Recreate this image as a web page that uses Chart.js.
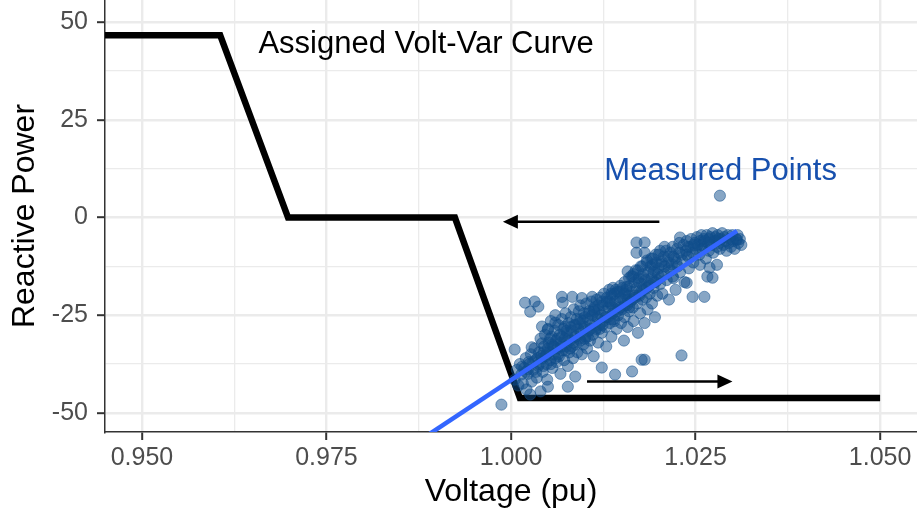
<!DOCTYPE html>
<html>
<head>
<meta charset="utf-8">
<script src="https://cdn.jsdelivr.net/npm/chart.js@4.4.1/dist/chart.umd.min.js"></script>
<style>
  html, body { margin: 0; padding: 0; background: #fff; }
</style>
</head>
<body>
<canvas id="voltVar" width="917" height="515"></canvas>
<script>
// ticks (every second one is a minor grid line)
const xTicks = [0.95, 0.9625, 0.975, 0.9875, 1.0, 1.0125, 1.025, 1.0375, 1.05];
const yTicks = [-50, -37.5, -25, -12.5, 0, 12.5, 25, 37.5, 50];

// assigned volt-var curve
const curveV = [0.945, 0.9606, 0.9698, 0.9924, 1.0012, 1.050];
const curveQ = [46.7, 46.7, 0, 0, -46.2, -46.2];

// linear fit through the measurements
const fitV = [0.988, 1.0306];
const fitQ = [-56.6, -3.4];

// measured points [voltage, reactive power]
const measuredPoints = [
  [1.0283, 5.6], [0.9987, -47.9], [1.0005, -33.8],
  [1.0019, -21.8], [1.0032, -21.5], [1.0037, -22.8], [1.0026, -24.1],
  [1.0069, -20.3], [1.0083, -20.3], [1.0096, -20.6], [1.0110, -20.3], [1.0070, -21.8],
  [1.0042, -27.9], [1.0050, -28.7], [1.0060, -26.9],
  [1.0028, -33.2], [1.0042, -32.2], [1.0015, -38.2], [1.0023, -38.9],
  [1.0050, -43.3], [1.0077, -43.3], [1.0087, -40.7], [1.0026, -45.3],
  [1.0123, -38.4], [1.0141, -40.2], [1.0164, -39.4], [1.0177, -36.4], [1.0181, -36.4],
  [1.0231, -35.3], [1.0138, -18.0], [1.0157, -17.7],
  [1.0170, -6.4], [1.0181, -6.4], [1.0170, -9.0], [1.0181, -9.0],
  [1.0229, -5.1], [1.0192, -12.1], [1.0204, -11.3], [1.0158, -13.8], [1.0165, -15.1],
  [1.0256, -12.1], [1.0269, -12.8], [1.0279, -12.1], [1.0266, -15.1], [1.0273, -15.4],
  [1.0246, -20.3], [1.0262, -20.3], [1.0219, -15.1], [1.0238, -16.7], [1.0306, -5.7],
  // 1.000 - 1.004
  [1.0005, -41.5], [1.0008, -39.0], [1.0010, -43.0], [1.0012, -37.5], [1.0014, -40.2],
  [1.0016, -42.5], [1.0018, -38.5], [1.0020, -36.0], [1.0021, -44.0], [1.0023, -40.0],
  [1.0025, -37.5], [1.0027, -35.0], [1.0028, -42.0], [1.0030, -39.0], [1.0032, -33.5],
  [1.0033, -36.5], [1.0035, -41.0], [1.0037, -38.0], [1.0038, -34.5], [1.0040, -31.0],
  [1.0040, -44.5], [1.0042, -36.0], [1.0043, -39.5],
  // 1.004 - 1.008
  [1.0045, -33.0], [1.0046, -30.0], [1.0047, -35.5], [1.0048, -37.5], [1.0049, -41.5],
  [1.0050, -28.5], [1.0051, -32.0], [1.0052, -34.5], [1.0053, -36.5], [1.0054, -26.5],
  [1.0055, -30.5], [1.0056, -38.5], [1.0057, -33.0], [1.0058, -35.0], [1.0059, -29.0],
  [1.0060, -25.0], [1.0061, -31.5], [1.0062, -37.0], [1.0063, -33.5], [1.0064, -27.5],
  [1.0065, -35.5], [1.0066, -30.0], [1.0067, -40.0], [1.0068, -32.0], [1.0069, -26.0],
  [1.0070, -34.0], [1.0071, -28.5], [1.0072, -36.5], [1.0073, -31.0], [1.0074, -24.5],
  [1.0075, -33.0], [1.0076, -29.5], [1.0077, -38.0], [1.0078, -27.0], [1.0079, -34.5],
  [1.0080, -31.5],
  // 1.008 - 1.012
  [1.0081, -25.5], [1.0082, -29.0], [1.0083, -33.0], [1.0084, -36.0], [1.0085, -23.5],
  [1.0086, -27.5], [1.0087, -30.5], [1.0088, -32.5], [1.0089, -26.0], [1.0090, -34.5],
  [1.0091, -28.5], [1.0092, -24.0], [1.0093, -31.0], [1.0094, -22.5], [1.0095, -29.5],
  [1.0096, -35.0], [1.0097, -26.5], [1.0098, -32.5], [1.0099, -24.5], [1.0100, -28.0],
  [1.0101, -30.5], [1.0102, -22.0], [1.0103, -33.5], [1.0104, -26.0], [1.0105, -29.0],
  [1.0106, -24.0], [1.0107, -31.5], [1.0108, -27.5], [1.0109, -21.5], [1.0110, -25.0],
  [1.0111, -30.0], [1.0112, -35.5], [1.0113, -23.0], [1.0114, -27.0], [1.0115, -28.5],
  [1.0116, -21.0], [1.0117, -25.5], [1.0118, -32.0], [1.0119, -23.5], [1.0120, -27.5],
  // 1.012 - 1.016
  [1.0121, -20.5], [1.0122, -25.0], [1.0123, -29.5], [1.0124, -22.5], [1.0125, -26.5],
  [1.0126, -19.5], [1.0127, -24.0], [1.0128, -28.0], [1.0129, -33.0], [1.0130, -21.5],
  [1.0131, -25.5], [1.0132, -23.0], [1.0133, -18.5], [1.0134, -27.0], [1.0135, -22.0],
  [1.0136, -30.5], [1.0137, -20.0], [1.0138, -24.5], [1.0139, -26.0], [1.0140, -19.5],
  [1.0141, -21.5], [1.0142, -23.5], [1.0143, -28.5], [1.0144, -19.0], [1.0145, -25.0],
  [1.0146, -22.0], [1.0147, -19.0], [1.0148, -20.5], [1.0149, -27.0], [1.0150, -23.5],
  [1.0151, -18.0], [1.0152, -21.0], [1.0153, -31.5], [1.0154, -25.5], [1.0155, -19.5],
  [1.0156, -18.5], [1.0157, -22.5], [1.0158, -28.0], [1.0159, -20.0], [1.0160, -24.0],
  // 1.016 - 1.020
  [1.0161, -17.5], [1.0162, -21.5], [1.0163, -15.0], [1.0164, -19.0], [1.0165, -23.0],
  [1.0166, -26.5], [1.0167, -16.5], [1.0168, -20.0], [1.0169, -13.5], [1.0170, -18.0],
  [1.0171, -22.0], [1.0172, -29.5], [1.0173, -15.5], [1.0174, -19.5], [1.0175, -24.5],
  [1.0176, -12.5], [1.0177, -17.0], [1.0178, -21.0], [1.0179, -14.5], [1.0180, -18.5],
  [1.0181, -27.0], [1.0182, -16.0], [1.0183, -20.5], [1.0184, -11.5], [1.0185, -23.5],
  [1.0186, -14.0], [1.0187, -17.5], [1.0188, -19.5], [1.0189, -12.5], [1.0190, -15.5],
  [1.0191, -22.0], [1.0192, -10.5], [1.0193, -18.0], [1.0194, -13.5], [1.0195, -25.5],
  [1.0196, -16.5], [1.0197, -11.5], [1.0198, -20.0], [1.0199, -14.5], [1.0200, -9.5],
  // 1.020 - 1.025
  [1.0202, -17.0], [1.0204, -12.0], [1.0205, -19.5], [1.0207, -10.0], [1.0208, -14.5],
  [1.0210, -8.5], [1.0211, -16.0], [1.0213, -11.5], [1.0214, -21.0], [1.0216, -9.0],
  [1.0217, -13.5], [1.0219, -7.5], [1.0220, -15.5], [1.0222, -10.5], [1.0223, -18.5],
  [1.0225, -8.0], [1.0226, -12.5], [1.0228, -6.5], [1.0229, -14.0], [1.0231, -9.5],
  [1.0232, -11.0], [1.0234, -7.0], [1.0235, -16.5], [1.0237, -8.5], [1.0238, -6.0],
  [1.0240, -10.0], [1.0241, -13.0], [1.0243, -7.5], [1.0244, -5.5], [1.0246, -9.0],
  [1.0247, -11.5], [1.0249, -6.5], [1.0250, -8.0],
  // 1.025 - 1.031
  [1.0252, -5.0], [1.0253, -7.0], [1.0255, -9.5], [1.0256, -6.0], [1.0258, -4.5],
  [1.0259, -8.0], [1.0261, -5.5], [1.0262, -7.5], [1.0264, -10.5], [1.0265, -4.5],
  [1.0267, -6.5], [1.0268, -8.5], [1.0270, -5.0], [1.0271, -7.0], [1.0273, -4.0],
  [1.0274, -9.0], [1.0276, -6.0], [1.0277, -5.0], [1.0279, -7.5], [1.0280, -4.5],
  [1.0282, -6.5], [1.0283, -8.0], [1.0285, -5.5], [1.0286, -4.0], [1.0288, -7.0],
  [1.0289, -5.0], [1.0291, -6.0], [1.0292, -8.5], [1.0294, -4.5], [1.0295, -6.5],
  [1.0297, -5.5], [1.0298, -7.5], [1.0300, -4.5], [1.0301, -6.0], [1.0303, -8.0],
  [1.0305, -5.5], [1.0307, -4.5], [1.0308, -6.5], [1.0310, -5.5], [1.0312, -7.0],
  // dense core, above and along the fit
  [1.0030, -37.0], [1.0036, -36.0], [1.0044, -34.5], [1.0050, -33.5], [1.0056, -32.5],
  [1.0063, -31.0], [1.0069, -30.5], [1.0075, -29.0], [1.0081, -28.0], [1.0088, -27.5],
  [1.0094, -26.0], [1.0100, -25.5], [1.0106, -24.5], [1.0112, -23.5], [1.0118, -22.5],
  [1.0124, -21.5], [1.0130, -20.5], [1.0136, -19.5], [1.0142, -18.5], [1.0148, -17.5],
  [1.0154, -16.5], [1.0160, -15.5], [1.0166, -14.5], [1.0172, -13.5], [1.0178, -12.5],
  [1.0184, -11.0], [1.0190, -10.5], [1.0196, -9.5], [1.0202, -8.5], [1.0208, -7.5],
  // dense core, below the fit
  [1.0034, -39.5], [1.0044, -38.0], [1.0054, -37.5], [1.0064, -35.0], [1.0074, -34.0],
  [1.0084, -32.0], [1.0094, -31.5], [1.0104, -30.5], [1.0114, -29.0], [1.0124, -27.5],
  [1.0134, -26.0], [1.0144, -24.0], [1.0154, -22.5], [1.0164, -21.0], [1.0174, -20.0],
  [1.0184, -18.0], [1.0194, -16.5], [1.0204, -15.0], [1.0214, -13.0], [1.0224, -11.5],
  // dense core, on the fit
  [1.0020, -39.5], [1.0024, -37.0], [1.0038, -37.5], [1.0041, -35.5], [1.0058, -33.0],
  [1.0060, -36.0], [1.0078, -31.0], [1.0080, -33.5], [1.0098, -28.5], [1.0100, -31.0],
  [1.0118, -26.0], [1.0120, -28.5], [1.0138, -23.0], [1.0140, -26.5], [1.0158, -21.0],
  [1.0160, -23.0], [1.0178, -18.5], [1.0180, -15.5], [1.0198, -16.0], [1.0200, -13.0],
  [1.0218, -12.0], [1.0220, -10.0], [1.0238, -9.5], [1.0240, -7.5], [1.0258, -7.0],
  [1.0262, -6.0], [1.0278, -6.0], [1.0281, -5.5],
  [1.0048, -35.0], [1.0068, -33.0], [1.0088, -30.5], [1.0108, -28.5], [1.0128, -25.5],
  [1.0148, -23.0], [1.0168, -20.5], [1.0188, -17.0], [1.0208, -12.5], [1.0228, -9.0],
  [1.0248, -7.0], [1.0268, -5.5],
  [1.0053, -31.0], [1.0073, -28.0], [1.0093, -27.0], [1.0113, -24.0], [1.0133, -21.5],
  [1.0153, -19.5], [1.0173, -16.5], [1.0193, -14.0], [1.0213, -10.0]
];

// annotations in data units
const arrows = [
  { from: [1.0201, -1.1], to: [0.9989, -1.1] },
  { from: [1.0103, -42.0], to: [1.0300, -42.0] }
];
const notes = [
  { text: 'Assigned Volt-Var Curve', at: [0.9885, 42.1], color: '#000000' },
  { text: 'Measured Points', at: [1.0284, 9.7], color: '#1750ae' }
];

const FONT = "'Liberation Sans', Arial, sans-serif";
Chart.defaults.font.family = FONT;

const isMajor = (c) => c.index % 2 === 0;

const annotationLayer = {
  id: 'annotationLayer',
  afterDatasetsDraw(chart) {
    const { ctx, scales: { x, y } } = chart;
    ctx.save();
    arrows.forEach(a => {
      const x0 = x.getPixelForValue(a.from[0]), y0 = y.getPixelForValue(a.from[1]);
      const x1 = x.getPixelForValue(a.to[0]), y1 = y.getPixelForValue(a.to[1]);
      const ang = Math.atan2(y1 - y0, x1 - x0);
      const len = 15, half = 7;
      const cos = Math.cos(ang), sin = Math.sin(ang);
      ctx.strokeStyle = '#000';
      ctx.lineWidth = 2.5;
      ctx.beginPath();
      ctx.moveTo(x0, y0);
      ctx.lineTo(x1 - cos * len * 0.8, y1 - sin * len * 0.8);
      ctx.stroke();
      ctx.beginPath();
      ctx.moveTo(x1, y1);
      ctx.lineTo(x1 - cos * len + sin * half, y1 - sin * len - cos * half);
      ctx.lineTo(x1 - cos * len - sin * half, y1 - sin * len + cos * half);
      ctx.closePath();
      ctx.fillStyle = '#000';
      ctx.fill();
    });
    ctx.font = '31px ' + FONT;
    ctx.textAlign = 'center';
    ctx.textBaseline = 'alphabetic';
    notes.forEach(n => {
      ctx.fillStyle = n.color;
      ctx.fillText(n.text, x.getPixelForValue(n.at[0]), y.getPixelForValue(n.at[1]));
    });
    ctx.restore();
  }
};

const ctx = document.getElementById('voltVar').getContext('2d');
new Chart(ctx, {
  type: 'scatter',
  data: {
    datasets: [
      {
        label: 'Fit',
        data: fitV.map((v, i) => ({ x: v, y: fitQ[i] })),
        showLine: true,
        borderColor: '#3366FF',
        borderWidth: 4.5,
        pointRadius: 0,
        clip: 0,
        order: 0
      },
      {
        label: 'Measured',
        data: measuredPoints.map(([v, q]) => ({ x: v, y: q })),
        pointRadius: 5.6,
        backgroundColor: 'rgba(16, 78, 139, 0.5)',
        borderColor: 'rgba(16, 78, 139, 0.5)',
        borderWidth: 1,
        order: 1
      },
      {
        label: 'Assigned',
        data: curveV.map((v, i) => ({ x: v, y: curveQ[i] })),
        showLine: true,
        borderColor: '#000000',
        borderWidth: 6.5,
        borderCapStyle: 'butt',
        borderJoinStyle: 'miter',
        pointRadius: 0,
        order: 2
      }
    ]
  },
  options: {
    responsive: false,
    animation: false,
    layout: { padding: 0, autoPadding: false },
    plugins: {
      legend: { display: false },
      tooltip: { enabled: false }
    },
    scales: {
      x: {
        type: 'linear',
        min: 0.945,
        max: 1.055,
        afterBuildTicks: (s) => { s.ticks = xTicks.map(v => ({ value: v })); },
        afterFit: (s) => { s.height = 83; s.paddingLeft = 0; s.paddingRight = 0; },
        ticks: {
          callback: (v, i) => (i % 2 === 0 ? v.toFixed(3) : ''),
          autoSkip: false,
          maxRotation: 0,
          color: '#4d4d4d',
          font: { size: 25 },
          padding: 3
        },
        grid: {
          color: '#ebebeb',
          lineWidth: (c) => (isMajor(c) ? 2.4 : 1.3),
          tickLength: 8,
          tickWidth: 2,
          tickColor: (c) => (isMajor(c) ? '#333333' : 'rgba(0,0,0,0)')
        },
        border: { display: true, color: '#333333', width: 1.5 },
        title: {
          display: true,
          text: 'Voltage (pu)',
          color: '#000',
          font: { size: 32 },
          padding: { top: 0, bottom: 4 }
        }
      },
      y: {
        type: 'linear',
        min: -54.9,
        max: 55.7,
        afterBuildTicks: (s) => { s.ticks = yTicks.map(v => ({ value: v })); },
        afterFit: (s) => { s.width = 105; s.paddingTop = 0; s.paddingBottom = 0; },
        ticks: {
          callback: (v, i) => (i % 2 === 0 ? String(v) : ''),
          color: '#4d4d4d',
          font: { size: 25 },
          padding: 9
        },
        grid: {
          color: '#ebebeb',
          lineWidth: (c) => (isMajor(c) ? 2.4 : 1.3),
          tickLength: 8,
          tickWidth: 2,
          tickColor: (c) => (isMajor(c) ? '#333333' : 'rgba(0,0,0,0)')
        },
        border: { display: true, color: '#333333', width: 1.5 },
        title: {
          display: true,
          text: 'Reactive Power',
          color: '#000',
          font: { size: 32 },
          padding: { top: 6, bottom: 0 }
        }
      }
    }
  },
  plugins: [annotationLayer]
});
</script>
</body>
</html>
